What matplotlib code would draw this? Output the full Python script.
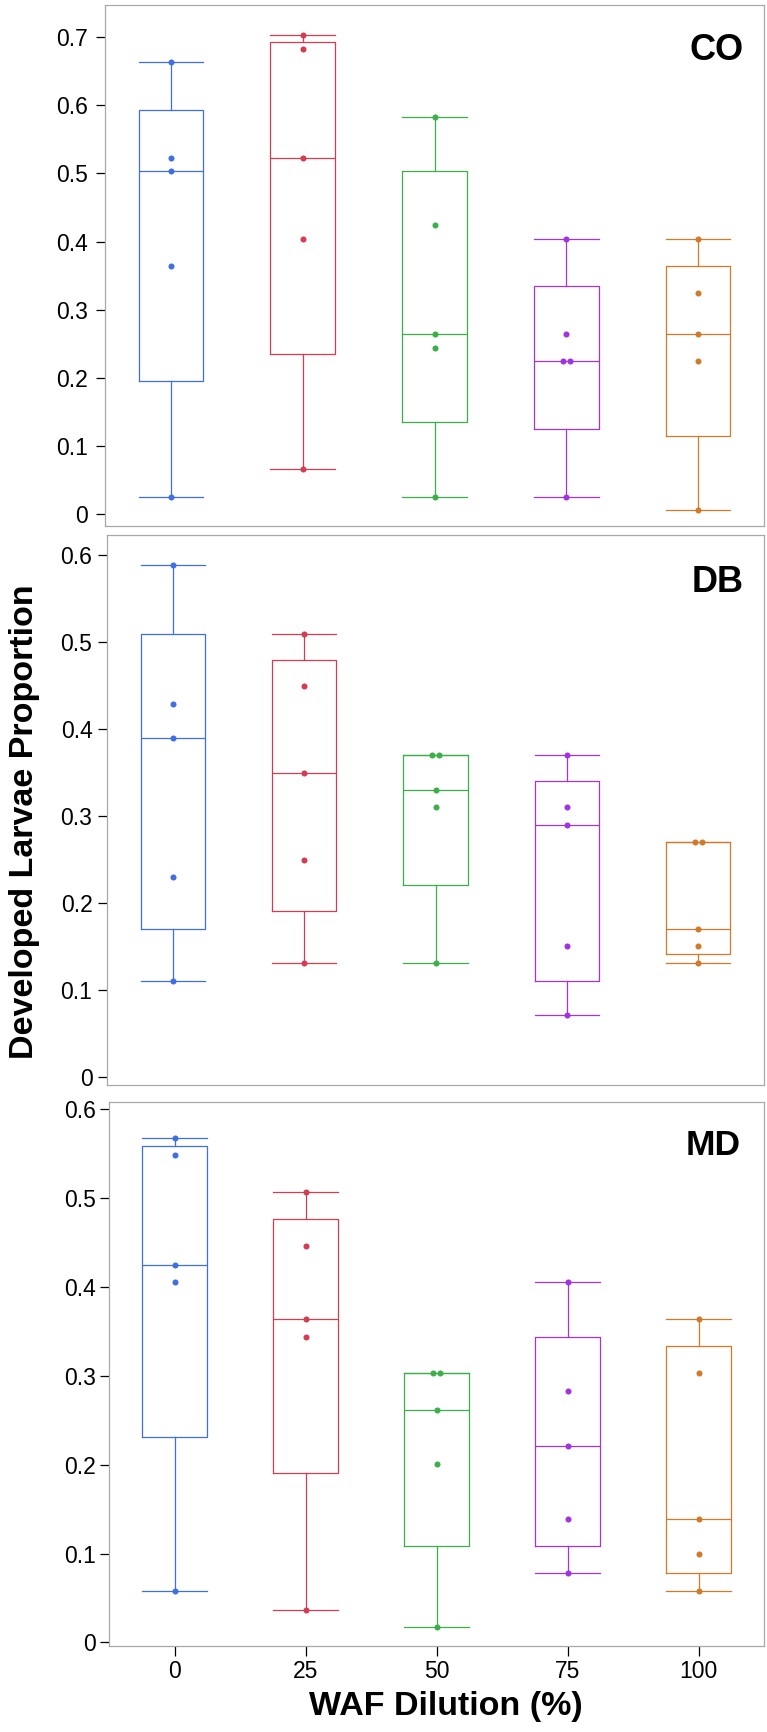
import numpy as np
import matplotlib
matplotlib.use('Agg')
import matplotlib.pyplot as plt

plt.rcParams['font.family'] = ['Liberation Sans', 'DejaVu Sans']

# WAF dilution groups
dilutions = ['0', '25', '50', '75', '100']
colors = ['#3f6fe0', '#d63c50', '#3bb048', '#a232e2', '#d27a2a']

# developed larvae proportion per replicate
co = [
    [0.026, 0.364, 0.503, 0.523, 0.663],
    [0.066, 0.404, 0.523, 0.683, 0.703],
    [0.026, 0.244, 0.265, 0.424, 0.583],
    [0.026, 0.225, 0.225, 0.265, 0.404],
    [0.006, 0.225, 0.265, 0.324, 0.404],
]
db = [
    [0.110, 0.230, 0.390, 0.429, 0.589],
    [0.131, 0.250, 0.350, 0.450, 0.509],
    [0.131, 0.310, 0.330, 0.370, 0.370],
    [0.071, 0.151, 0.290, 0.310, 0.370],
    [0.131, 0.151, 0.170, 0.270, 0.270],
]
md = [
    [0.058, 0.405, 0.425, 0.548, 0.568],
    [0.037, 0.344, 0.364, 0.446, 0.507],
    [0.017, 0.201, 0.262, 0.303, 0.303],
    [0.078, 0.139, 0.221, 0.283, 0.405],
    [0.058, 0.099, 0.139, 0.303, 0.364],
]

co_ticks = [0, 0.1, 0.2, 0.3, 0.4, 0.5, 0.6, 0.7]
co_ticklabels = ['0', '0.1', '0.2', '0.3', '0.4', '0.5', '0.6', '0.7']
db_ticks = [0, 0.1, 0.2, 0.3, 0.4, 0.5, 0.6]
db_ticklabels = ['0', '0.1', '0.2', '0.3', '0.4', '0.5', '0.6']
md_ticks = [0, 0.1, 0.2, 0.3, 0.4, 0.5, 0.6]
md_ticklabels = ['0', '0.1', '0.2', '0.3', '0.4', '0.5', '0.6']


def box_stats(vals):
    # hinges = medians of lower / upper halves (median excluded)
    v = np.sort(vals)
    n = len(v)
    lo = v[:n // 2]
    hi = v[(n + 1) // 2:]
    return dict(med=np.median(v), q1=np.median(lo), q3=np.median(hi),
                whislo=v.min(), whishi=v.max(), fliers=[])


W, H = 767, 1732
fig = plt.figure(figsize=(W / 100, H / 100), dpi=100)

# name, data, ticks, labels, frame px (l, t, r, b), tick pad, label size, label offset
panels = [
    ('CO', co, co_ticks, co_ticklabels, (105, 5, 764, 526), 5.5, 26, (14.5, 20)),
    ('DB', db, db_ticks, db_ticklabels, (107, 535, 764, 1085), 3.8, 26, (15, 21.5)),
    ('MD', md, md_ticks, md_ticklabels, (109, 1102, 764, 1646), 2.4, 25.5, (16.5, 19.5)),
]
ylims = [(-0.017, 0.747), (-0.009, 0.623), (-0.004, 0.608)]

for i, (name, data, ticks, labels, (l, t, r, b), pad, lfs, off) in enumerate(panels):
    ax = fig.add_axes([l / W, 1 - b / H, (r - l) / W, (b - t) / H])
    stats = [box_stats(d) for d in data]
    for k, (st, c) in enumerate(zip(stats, colors)):
        ax.bxp([st], positions=[k], widths=0.49, showfliers=False,
               boxprops=dict(color=c, lw=0.9),
               medianprops=dict(color=c, lw=0.9),
               whiskerprops=dict(color=c, lw=0.9),
               capprops=dict(color=c, lw=0.9),
               capwidths=0.49)
        vals = np.array(data[k])
        xs = np.full(len(vals), float(k))
        # side-by-side for tied values
        for v in np.unique(vals):
            idx = np.where(vals == v)[0]
            if len(idx) > 1:
                xs[idx] = k + (np.arange(len(idx)) - (len(idx) - 1) / 2) * 0.05
        ax.scatter(xs, vals, s=19, color=c, zorder=3, linewidths=0)
    ax.set_xlim(-0.5, 4.5)
    ax.set_ylim(*ylims[i])
    ax.set_yticks(ticks)
    ax.set_yticklabels(labels)
    ax.tick_params(axis='y', direction='out', length=6.7, width=0.9,
                   labelsize=16.5, pad=pad, color='black')
    for sp in ax.spines.values():
        sp.set_color('#a8a8a8')
        sp.set_linewidth(0.9)
    if i < 2:
        ax.set_xticks([])
    else:
        ax.set_xticks(range(len(dilutions)))
        ax.set_xticklabels(dilutions)
        ax.tick_params(axis='x', direction='out', length=7, width=0.9,
                       labelsize=16.5, pad=3, color='black')
    ax.annotate(name, xy=(1, 1), xycoords='axes fraction',
                xytext=(-off[0], -off[1]), textcoords='offset points',
                ha='right', va='top', fontsize=lfs, fontweight='bold')

fig.text(25 / W, 1 - 822 / H, 'Developed Larvae Proportion', rotation=90,
         ha='center', va='center', fontsize=24.5, fontweight='bold')
fig.text(446 / W, 1 - 1706 / H, 'WAF Dilution (%)',
         ha='center', va='center', fontsize=24.5, fontweight='bold')

fig.savefig('out.png', dpi=100)
